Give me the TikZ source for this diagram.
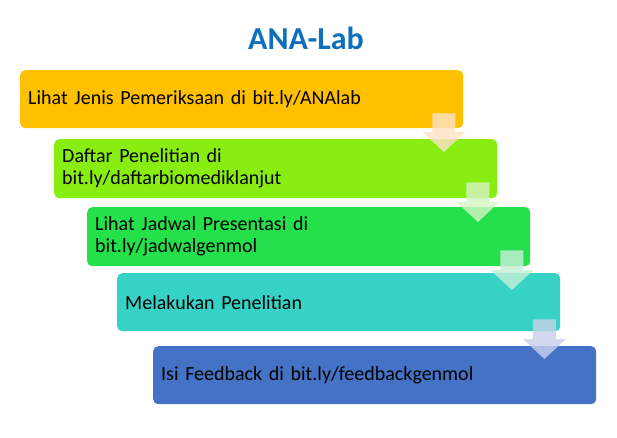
\documentclass[tikz,border=0pt]{standalone}
\usepackage{fontspec}
\setmainfont{Carlito}
\usetikzlibrary{calc}
\definecolor{titleblue}{HTML}{0F6FBF}
\definecolor{cA}{HTML}{FFC000}
\definecolor{cB}{HTML}{88EE12}
\definecolor{cC}{HTML}{24E04A}
\definecolor{cD}{HTML}{35D2C5}
\definecolor{cE}{HTML}{4472C4}
\definecolor{aA}{HTML}{FCE2C4}
\definecolor{aB}{HTML}{D4F4C2}
\definecolor{aC}{HTML}{C4EFD6}
\definecolor{aD}{HTML}{C8D0EA}
\newcommand\steptextfont{\fontsize{20}{22}\selectfont\spaceskip=0.19em plus 0.05em minus 0.02em\relax}
\newcommand\flowarrow[3]{%
  \fill[#3,opacity=0.82] ($(#1)+(-11.5,0)$) -- ($(#1)+(11.5,0)$) -- ($(#2)+(11.5,-20)$) -- ($(#2)+(21.5,-20)$) -- (#2) -- ($(#2)+(-21.5,-20)$) -- ($(#2)+(-11.5,-20)$) -- cycle;}
\begin{document}
\begin{tikzpicture}[x=1pt,y=-1pt,
  stepbox/.style={anchor=north west, rounded corners=5pt, minimum width=443pt, text width=427pt, inner xsep=8pt, align=left, font=\steptextfont, text=black}]
\useasboundingbox (0,0) rectangle (617,437);
\node[font=\bfseries\fontsize{32}{36}\selectfont, text=titleblue] (title) at (306,38) {ANA-Lab};
\node[stepbox, fill=cA, minimum height=58pt] (b1) at (20,70) {Lihat Jenis Pemeriksaan di bit.ly/ANAlab};
\node[stepbox, fill=cB, minimum height=59pt] (b2) at (54,139) {Daftar Penelitian di\\bit.ly/daftarbiomediklanjut};
\node[stepbox, fill=cC, minimum height=59pt] (b3) at (87,207) {Lihat Jadwal Presentasi di\\bit.ly/jadwalgenmol};
\node[stepbox, fill=cD, minimum height=58pt] (b4) at (117,273) {Melakukan Penelitian};
\node[stepbox, fill=cE, minimum height=58pt] (b5) at (153,346) {Isi Feedback di bit.ly/feedbackgenmol};
\coordinate (t1) at ($(b1.south east)+(-19.5,-15)$);
\coordinate (e1) at ($(t1 |- b2.north)+(0,13)$);
\coordinate (t2) at ($(b2.south east)+(-19.5,-16)$);
\coordinate (e2) at ($(t2 |- b3.north)+(0,15)$);
\coordinate (t3) at ($(b3.south east)+(-18.5,-16)$);
\coordinate (e3) at ($(t3 |- b4.north)+(0,17)$);
\coordinate (t4) at ($(b4.south east)+(-16,-12)$);
\coordinate (e4) at ($(t4 |- b5.north)+(0,13)$);
\flowarrow{t1}{e1}{aA}
\flowarrow{t2}{e2}{aB}
\flowarrow{t3}{e3}{aC}
\flowarrow{t4}{e4}{aD}
\end{tikzpicture}
\end{document}
